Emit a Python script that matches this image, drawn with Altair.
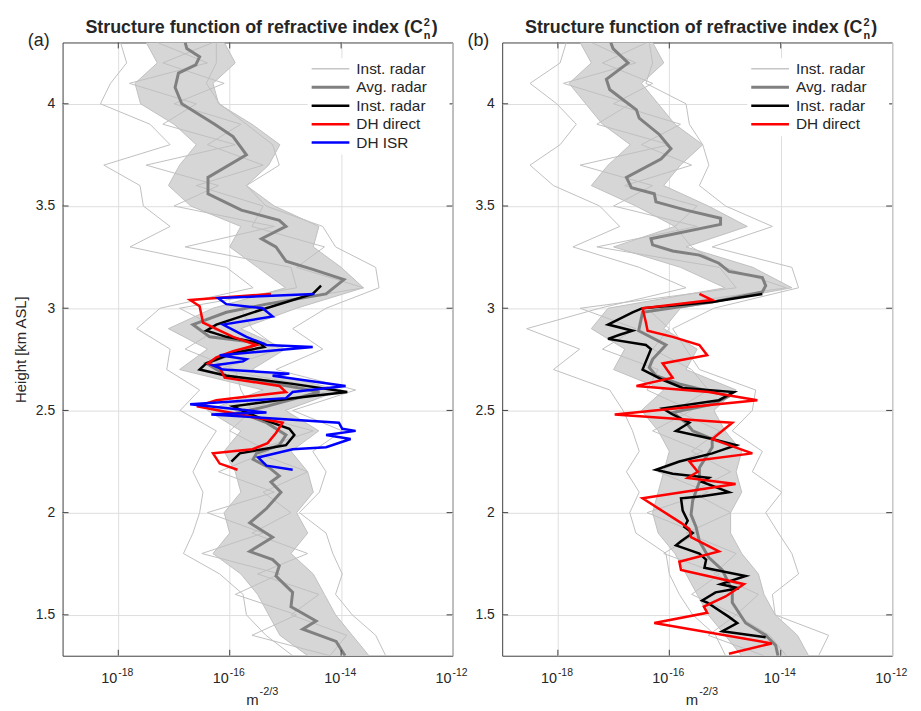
import altair as alt
import pandas as pd

FONT = "Liberation Sans"
W, H = 393, 618
GRID = "#dedede"
INK = "#262626"

# ---------------- data (log10 of Cn^2, heights in km) ----------------
grid_h = [4.3, 4.2, 4.1, 4.0, 3.9, 3.8, 3.7, 3.6, 3.5, 3.4, 3.3, 3.2, 3.1, 3.0, 2.9, 2.8,
          2.7, 2.6, 2.5, 2.4, 2.3, 2.2, 2.1, 2.0, 1.9, 1.8, 1.7, 1.6, 1.5, 1.4, 1.3]

# panel (a) instantaneous radar profiles (grey)
a_lo = [-17.96, -17.85, -18.14, -18.32, -17.43, -17.07, -18.26, -17.61, -17.55, -17.07, -17.79,
        -16.06, -15.58, -17.25, -17.67, -17.07, -17.13, -16.54, -16.89, -16.24, -16.48, -16.66,
        -16.48, -16.54, -16.66, -16.83, -16.18, -15.76, -15.70, -15.35, -14.87]
a_hi = [-16.24, -16.24, -16.42, -16.18, -15.70, -15.23, -15.11, -15.70, -15.35, -14.33, -14.10,
        -13.38, -13.32, -14.27, -14.87, -14.33, -15.17, -13.74, -14.87, -13.98, -14.51, -14.27,
        -14.39, -14.75, -14.27, -14.15, -13.98, -14.10, -13.80, -13.38, -13.20]
a_m1 = [-17.5, -17.3, -17.7, -17.6, -17.0, -16.6, -16.9, -17.1, -16.7, -15.8, -16.0, -15.5, -15.0,
        -16.3, -17.1, -16.4, -16.9, -15.4, -16.4, -15.8, -16.1, -15.9, -15.8, -16.1, -16.0, -16.3,
        -15.8, -15.5, -15.3, -15.1, -14.6]
a_m2 = [-17.3, -16.4, -17.8, -16.6, -17.2, -15.9, -17.5, -16.2, -17.0, -15.2, -16.8, -14.9, -14.8,
        -16.9, -16.2, -16.8, -15.9, -15.8, -15.6, -16.0, -15.3, -16.2, -15.2, -16.4, -15.4, -16.5,
        -15.1, -15.9, -14.8, -15.6, -14.2]
a_m3 = [-16.3, -17.2, -16.1, -17.0, -15.8, -16.4, -15.4, -16.6, -15.4, -15.6, -14.3, -14.8, -13.6,
        -15.8, -15.6, -15.1, -16.2, -14.1, -15.9, -14.5, -15.6, -14.6, -15.4, -14.9, -15.6, -14.6,
        -15.5, -14.4, -14.9, -13.9, -14.2]
a_m4 = [-16.1, -15.9, -16.3, -16.2, -15.6, -15.1, -15.3, -15.7, -15.2, -14.4, -14.5, -14.0, -13.6,
        -14.8, -15.8, -15.0, -15.6, -14.0, -15.0, -14.4, -14.9, -14.6, -14.5, -14.8, -14.6, -14.9,
        -14.5, -14.3, -14.1, -13.8, -13.5]

a_avg_h = [4.30, 4.27, 4.23, 4.19, 4.15, 4.08, 4.00, 3.90, 3.84, 3.75, 3.64, 3.56, 3.48, 3.43, 3.40,
           3.34, 3.30, 3.23, 3.19, 3.14, 3.07, 3.02, 2.98, 2.92, 2.86, 2.83, 2.79, 2.73, 2.67, 2.61,
           2.59, 2.52, 2.49, 2.44, 2.38, 2.33, 2.29, 2.26, 2.22, 2.18, 2.15, 2.10, 2.02, 1.95, 1.88,
           1.81, 1.77, 1.74, 1.69, 1.61, 1.54, 1.47, 1.43, 1.37, 1.30]
a_avg_v = [-16.80, -16.77, -16.54, -16.61, -16.92, -16.98, -16.86, -16.27, -15.94, -15.70, -16.39,
           -16.39, -15.79, -15.11, -14.99, -15.43, -15.17, -14.99, -14.51, -13.95, -14.27, -15.34,
           -16.06, -16.66, -16.36, -15.46, -15.82, -16.42, -16.06, -14.75, -14.39, -15.34, -15.82,
           -15.34, -14.99, -15.11, -15.52, -15.58, -15.29, -15.11, -15.26, -15.08, -15.34, -15.64,
           -15.23, -15.64, -15.23, -15.11, -15.17, -14.87, -14.90, -14.45, -14.69, -14.09, -13.93]

a_blk_h = [3.11, 3.07, 2.99, 2.92, 2.89, 2.86, 2.83, 2.81, 2.78, 2.73, 2.70, 2.67, 2.63, 2.59, 2.56,
           2.52, 2.49, 2.45, 2.41, 2.38, 2.33, 2.29, 2.25]
a_blk_v = [-14.36, -14.51, -15.46, -16.24, -16.42, -16.06, -15.46, -15.38, -15.94, -16.42, -16.54,
           -16.06, -14.87, -13.89, -14.87, -15.94, -15.70, -15.34, -14.93, -14.84, -14.99, -15.82,
           -15.97]

a_red_h = [3.07, 3.04, 3.01, 2.93, 2.86, 2.82, 2.79, 2.76, 2.73, 2.71, 2.66, 2.62, 2.59, 2.55, 2.52,
           2.44, 2.39, 2.34, 2.31, 2.29, 2.24, 2.21]
a_red_v = [-15.26, -16.71, -16.54, -16.48, -15.94, -15.52, -15.94, -16.24, -16.39, -16.18, -16.09,
           -15.11, -14.99, -16.24, -16.59, -15.05, -15.17, -15.32, -15.59, -16.30, -16.18, -15.86]

a_blu_h = [3.07, 3.05, 3.02, 3.00, 2.96, 2.92, 2.86, 2.82, 2.81, 2.77, 2.75, 2.74, 2.72, 2.70, 2.68,
           2.67, 2.62, 2.59, 2.56, 2.53, 2.49, 2.48, 2.44, 2.41, 2.40, 2.38, 2.36, 2.32, 2.31, 2.27,
           2.23, 2.21]
a_blu_v = [-14.48, -16.21, -16.06, -15.41, -15.23, -16.12, -15.70, -15.34, -14.51, -16.18, -15.70,
           -15.76, -16.30, -16.12, -14.93, -15.23, -13.92, -14.87, -14.99, -16.71, -15.34, -16.33,
           -14.04, -13.98, -13.74, -14.27, -13.83, -14.27, -14.87, -15.49, -15.34, -14.87]

# panel (b)
b_lo = [-17.85, -17.96, -18.50, -18.02, -17.67, -17.96, -18.50, -18.08, -17.25, -16.89, -17.73,
        -16.54, -15.70, -17.25, -18.56, -17.61, -18.08, -17.07, -16.83, -16.66, -16.54, -16.77,
        -16.54, -16.71, -16.60, -16.06, -16.00, -15.82, -15.58, -15.17, -14.99]
b_hi = [-16.36, -16.30, -16.42, -15.70, -15.64, -15.40, -15.29, -15.46, -14.99, -14.15, -15.23,
        -13.80, -13.68, -15.20, -15.94, -15.70, -15.46, -14.45, -14.51, -14.87, -14.33, -14.51,
        -13.98, -14.27, -14.04, -13.80, -13.68, -14.15, -14.10, -13.14, -13.32]
b_m1 = [-17.6, -17.4, -17.8, -17.5, -17.2, -16.7, -17.1, -17.4, -16.6, -15.9, -17.0, -15.8, -15.0,
        -17.1, -17.4, -16.8, -17.0, -16.1, -16.5, -16.2, -16.0, -16.1, -16.2, -16.3, -16.2, -15.9,
        -15.7, -15.5, -15.3, -15.0, -14.7]
b_m2 = [-17.4, -16.6, -17.9, -16.7, -17.3, -16.0, -17.6, -16.3, -17.0, -15.5, -17.3, -15.1, -14.8,
        -17.6, -16.6, -17.2, -16.2, -16.4, -15.6, -16.3, -15.4, -16.2, -15.3, -16.4, -15.5, -16.1,
        -15.1, -15.6, -14.8, -15.3, -14.3]
b_m3 = [-16.4, -17.2, -16.3, -17.0, -15.8, -16.5, -15.6, -16.8, -15.5, -15.9, -15.6, -15.0, -13.9,
        -16.4, -16.0, -16.3, -15.6, -15.3, -15.9, -15.1, -15.6, -14.9, -15.6, -14.9, -15.7, -14.8,
        -15.2, -14.4, -14.8, -14.2, -13.9]
b_m4 = [-16.3, -16.1, -16.5, -16.2, -15.9, -15.4, -15.8, -16.1, -15.3, -14.6, -15.7, -14.5, -13.8,
        -15.8, -16.1, -15.5, -15.7, -14.8, -15.2, -15.0, -14.7, -14.8, -14.7, -14.9, -14.9, -14.7,
        -14.4, -14.3, -14.1, -13.7, -13.5]

b_avg_h = [4.30, 4.27, 4.20, 4.12, 4.07, 4.02, 3.97, 3.93, 3.85, 3.78, 3.73, 3.64, 3.59, 3.56, 3.52,
           3.48, 3.44, 3.41, 3.34, 3.31, 3.28, 3.26, 3.22, 3.18, 3.15, 3.11, 3.08, 3.03, 2.98, 2.89,
           2.82, 2.75, 2.71, 2.67, 2.63, 2.57, 2.53, 2.49, 2.44, 2.40, 2.36, 2.32, 2.22, 2.15, 2.06,
           1.99, 1.93, 1.86, 1.78, 1.72, 1.62, 1.56, 1.46, 1.40, 1.35, 1.30]
b_avg_v = [-17.05, -17.01, -16.74, -17.13, -17.07, -16.83, -16.59, -16.54, -16.18, -15.97, -16.15,
           -16.77, -16.68, -16.27, -16.24, -15.70, -15.08, -15.08, -16.33, -16.30, -15.94, -15.46,
           -15.11, -14.93, -14.33, -14.27, -14.33, -15.23, -16.48, -16.55, -16.06, -16.30, -16.36,
           -16.24, -15.82, -14.93, -15.23, -15.94, -15.70, -15.58, -15.23, -15.23, -15.46, -15.46,
           -15.58, -15.61, -15.52, -15.46, -15.29, -15.05, -14.87, -14.87, -14.63, -14.27, -14.09,
           -14.05]

b_blk_h = [3.07, 3.03, 3.00, 2.98, 2.92, 2.89, 2.87, 2.85, 2.82, 2.80, 2.74, 2.70, 2.65, 2.61, 2.59,
           2.55, 2.51, 2.48, 2.44, 2.40, 2.36, 2.33, 2.29, 2.25, 2.21, 2.19, 2.17, 2.15, 2.10, 2.08,
           2.07, 2.01, 1.96, 1.93, 1.90, 1.86, 1.84, 1.80, 1.77, 1.73, 1.69, 1.65, 1.63, 1.61, 1.57,
           1.56, 1.49, 1.46, 1.42, 1.39]
b_blk_v = [-14.33, -15.23, -16.48, -16.66, -17.10, -16.66, -16.89, -17.10, -16.42, -16.33, -16.42,
           -16.48, -16.12, -15.76, -14.84, -15.11, -16.12, -15.94, -15.64, -15.88, -15.23, -14.80,
           -15.23, -15.82, -16.24, -15.94, -15.29, -15.41, -14.93, -15.41, -15.79, -15.76, -15.67,
           -15.73, -15.58, -15.79, -15.88, -15.46, -15.34, -15.37, -14.63, -15.08, -14.75, -15.17,
           -15.41, -15.32, -14.93, -14.78, -15.05, -14.27]

b_red_h = [3.07, 3.04, 3.00, 2.93, 2.89, 2.86, 2.82, 2.77, 2.73, 2.66, 2.62, 2.59, 2.55, 2.48, 2.44,
           2.36, 2.29, 2.25, 2.20, 2.17, 2.14, 2.07, 1.95, 1.92, 1.88, 1.81, 1.76, 1.72, 1.65, 1.59,
           1.54, 1.51, 1.46, 1.36, 1.31]
b_red_v = [-15.46, -15.23, -16.48, -16.42, -16.39, -15.94, -15.46, -15.32, -16.12, -15.94, -16.59,
           -15.29, -14.42, -16.98, -14.87, -15.23, -14.51, -15.64, -15.49, -15.67, -14.81, -16.48,
           -15.79, -15.64, -15.61, -15.11, -15.82, -15.79, -14.66, -14.99, -15.38, -15.32, -16.27,
           -14.16, -14.93]

# axes text
x_ticks = [1e-18, 1e-16, 1e-14, 1e-12]
x_exps = ["-18", "-16", "-14", "-12"]
y_ticks = [1.5, 2, 2.5, 3, 3.5, 4]
title_main = "Structure function of refractive index (C"
title_sup, title_sub = "2", "n"

legend_a = [("Inst. radar", "#c6c6c6", 1.5), ("Avg. radar", "#808080", 3),
            ("Inst. radar", "#000000", 2.5), ("DH direct", "#ff0000", 2.5), ("DH ISR", "#0000ff", 2.5)]
legend_b = legend_a[:4]

# ---------------- chart ----------------
xs = alt.Scale(type="log", domain=[1e-19, 1e-12])
ys = alt.Scale(domain=[1.3, 4.3], nice=False, zero=False)
ONE = pd.DataFrame({"k": [0]})


def line_df(h, v):
    return pd.DataFrame({"h": h, "v": [10.0 ** x for x in v], "i": list(range(len(h)))})


def text_layer(txt, x, y, size, weight="normal", align="left", baseline="alphabetic"):
    return alt.Chart(ONE).mark_text(
        text=txt, font=FONT, fontSize=size, fontWeight=weight, align=align,
        baseline=baseline, color=INK
    ).encode(x=alt.value(x), y=alt.value(y))


def panel(tag, gray, avg, lines, legend, ytitle):
    xax = alt.Axis(values=x_ticks, labels=False, ticks=False, domain=False, grid=True,
                   gridColor=GRID, title=None)
    yopts = dict(values=y_ticks, format="~g", ticks=False, domain=False, grid=True,
                 gridColor=GRID, labelPadding=8, labelFontSize=14, labelFont=FONT,
                 labelColor=INK)
    if ytitle:
        yopts.update(title=ytitle, titleFontSize=15, titleFont=FONT, titleFontWeight="normal",
                     titleColor=INK, titlePadding=7)
    else:
        yopts.update(title=None)
    yax = alt.Axis(**yopts)

    def X(f):
        return alt.X(f, type="quantitative", scale=xs, axis=xax)

    def Y(f):
        return alt.Y(f, type="quantitative", scale=ys, axis=yax)

    lo, hi, m1, m2, m3, m4 = gray
    core = pd.DataFrame({"h": grid_h, "a": [10.0 ** v for v in m1], "b": [10.0 ** v for v in m4]})
    layers = [alt.Chart(core).mark_area(orient="horizontal", color="#d6d6d6", clip=True)
              .encode(y=Y("h"), x=X("a"), x2="b")]

    rows = []
    for name, arr in zip(["lo", "hi", "m1", "m2", "m3", "m4"], [lo, hi, m1, m2, m3, m4]):
        for i, (h, v) in enumerate(zip(grid_h, arr)):
            rows.append({"s": name, "i": i, "h": h, "v": 10.0 ** v})
    layers.append(alt.Chart(pd.DataFrame(rows)).mark_line(color="#c0c0c0", strokeWidth=1, clip=True)
                  .encode(x=X("v"), y=Y("h"), detail="s:N", order="i:Q"))

    layers.append(alt.Chart(line_df(*avg)).mark_line(color="#808080", strokeWidth=3, clip=True)
                  .encode(x=X("v"), y=Y("h"), order="i:Q"))
    for (h, v, col) in lines:
        layers.append(alt.Chart(line_df(h, v)).mark_line(color=col, strokeWidth=2.5, clip=True)
                      .encode(x=X("v"), y=Y("h"), order="i:Q"))

    # inward ticks on all four sides
    xt = pd.DataFrame({"t": x_ticks[:3]})
    yt = pd.DataFrame({"t": y_ticks})
    layers.append(alt.Chart(xt).mark_rule(color="#404040").encode(x=X("t"), y=alt.value(H), y2=alt.value(H - 6)))
    layers.append(alt.Chart(xt).mark_rule(color="#404040").encode(x=X("t"), y=alt.value(0), y2=alt.value(6)))
    layers.append(alt.Chart(yt).mark_rule(color="#404040").encode(y=Y("t"), x=alt.value(0), x2=alt.value(6)))
    layers.append(alt.Chart(yt).mark_rule(color="#404040").encode(y=Y("t"), x=alt.value(W - 6), x2=alt.value(W)))

    # x tick labels 10^n
    lab = pd.DataFrame({"t": x_ticks, "base": ["10"] * len(x_ticks), "exp": x_exps})
    layers.append(alt.Chart(lab).mark_text(align="right", baseline="alphabetic", font=FONT,
                                           fontSize=14.5, color=INK, dx=-1)
                  .encode(x=X("t"), y=alt.value(H + 27), text="base:N"))
    layers.append(alt.Chart(lab).mark_text(align="left", baseline="alphabetic", font=FONT,
                                           fontSize=10.5, color=INK, dx=0)
                  .encode(x=X("t"), y=alt.value(H + 20), text="exp:N"))

    # x-axis title  m^-2/3
    layers.append(text_layer("m", W / 2 + 1, H + 50, 15, align="right"))
    layers.append(text_layer("-2/3", W / 2 + 2, H + 40, 11))

    # panel title
    layers.append(text_layer(title_main, 363, -10, 18, weight="bold", align="right"))
    layers.append(text_layer(title_sup, 364, -17, 11, weight="bold"))
    layers.append(text_layer(title_sub, 364, -3, 11, weight="bold"))
    layers.append(text_layer(")", 372, -10, 18, weight="bold"))
    layers.append(text_layer(tag, -24, 4, 18, align="center"))

    # legend box
    n = len(legend)
    layers.append(alt.Chart(ONE).mark_rect(color="white").encode(
        x=alt.value(247), x2=alt.value(390), y=alt.value(16), y2=alt.value(16 + 18.6 * n + 4)))
    for k, (lbl, col, sw) in enumerate(legend):
        yy = 26.5 + 18.6 * k
        layers.append(alt.Chart(ONE).mark_rule(color=col, strokeWidth=sw).encode(
            x=alt.value(251), x2=alt.value(289), y=alt.value(yy)))
        layers.append(text_layer(lbl, 296, yy, 15.5, baseline="middle"))

    return alt.layer(*layers).properties(width=W, height=H)


pa = panel("(a)", (a_lo, a_hi, a_m1, a_m2, a_m3, a_m4), (a_avg_h, a_avg_v),
           [(a_blk_h, a_blk_v, "#000000"), (a_red_h, a_red_v, "#ff0000"), (a_blu_h, a_blu_v, "#0000ff")],
           legend_a, "Height [km ASL]")
pb = panel("(b)", (b_lo, b_hi, b_m1, b_m2, b_m3, b_m4), (b_avg_h, b_avg_v),
           [(b_blk_h, b_blk_v, "#000000"), (b_red_h, b_red_v, "#ff0000")],
           legend_b, None)

chart = alt.hconcat(pa, pb, spacing=50, bounds="flush").configure_view(
    stroke="#404040", strokeWidth=1
).properties(background="white")

chart.save("out.html", embed_options={"renderer": "svg", "actions": False})
